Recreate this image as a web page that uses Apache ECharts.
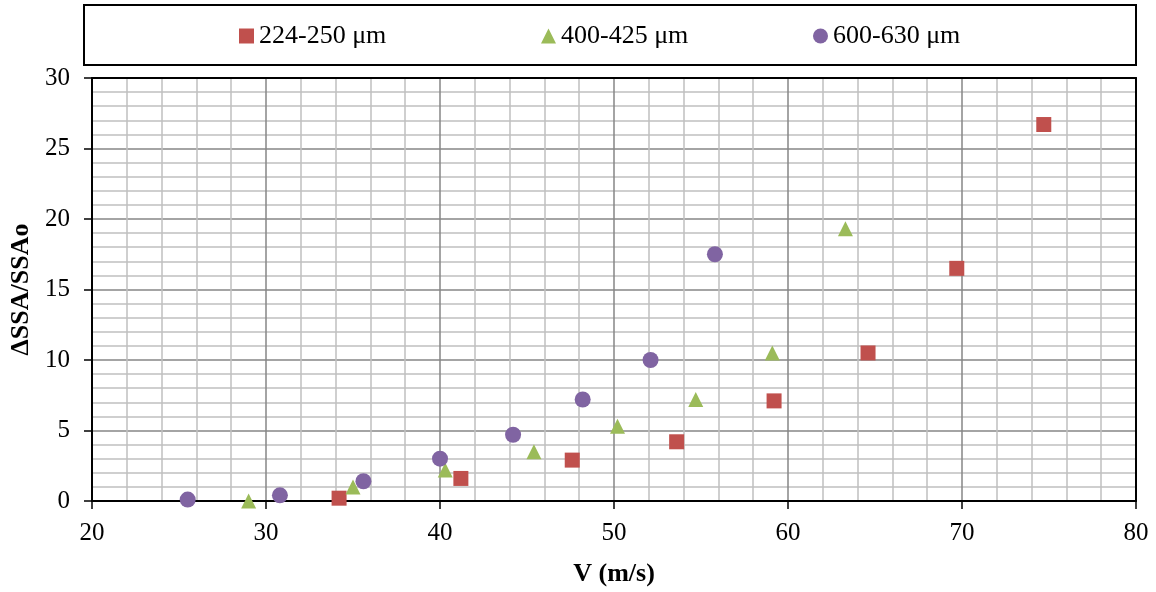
<!DOCTYPE html>
<html>
<head>
<meta charset="utf-8">
<script src="https://cdn.jsdelivr.net/npm/echarts@6/dist/echarts.min.js"></script>
<style>
html,body{margin:0;padding:0;background:#fff;}
#chart{width:1156px;height:592px;}
</style>
</head>
<body>
<div id="chart"></div>
<script>
const seriesNames = ['224-250 μm', '400-425 μm', '600-630 μm'];
const fine = [[34.2, 0.2], [41.2, 1.6], [47.6, 2.9], [53.6, 4.2], [59.2, 7.1], [64.6, 10.5], [69.7, 16.5], [74.7, 26.7]];
const medium = [[29.0, 0.0], [35.0, 1.0], [40.3, 2.2], [45.4, 3.5], [50.2, 5.3], [54.7, 7.2], [59.1, 10.5], [63.3, 19.3]];
const coarse = [[25.5, 0.1], [30.8, 0.4], [35.6, 1.4], [40.0, 3.0], [44.2, 4.7], [48.2, 7.2], [52.1, 10.0], [55.8, 17.5]];
const xTitle = 'V (m/s)';
const yTitle = 'ΔSSA/SSAo';

const font = '"Liberation Serif", "Times New Roman", serif';
const legendText = {fontFamily: font, fontSize: 26, color: '#000'};
const chart = echarts.init(document.getElementById('chart'));
function leg(i, left, icon) {
  return {top: 18, left: left, itemWidth: 15, itemHeight: 15, itemGap: 0,
    textStyle: legendText, data: [{name: seriesNames[i], icon: icon}]};
}
const hiddenAxis = {
  axisLabel: {show: false}, axisTick: {show: false}, splitLine: {show: false},
  axisLine: {show: true, onZero: false, lineStyle: {color: '#000', width: 2}}
};
chart.setOption({
  animation: false,
  backgroundColor: '#fff',
  graphic: [{
    type: 'rect', shape: {x: 84, y: 5, width: 1052, height: 60},
    style: {fill: 'none', stroke: '#000', lineWidth: 2}, z: 0
  }],
  legend: [leg(0, 234, 'rect'), leg(1, 536, 'triangle'), leg(2, 808, 'circle')],
  grid: {left: 92, right: 20, top: 78, bottom: 89},
  xAxis: [{
    type: 'value', min: 20, max: 80, interval: 10,
    name: xTitle, nameLocation: 'middle', nameGap: 60,
    nameTextStyle: {fontFamily: font, fontSize: 26, fontWeight: 'bold', color: '#000'},
    axisLine: {show: true, onZero: false, lineStyle: {color: '#000', width: 2}},
    axisTick: {show: true, length: 8, lineStyle: {color: '#000', width: 1.5}},
    axisLabel: {fontFamily: font, fontSize: 25, color: '#000', margin: 20},
    splitLine: {show: true, lineStyle: {color: '#868686', width: 1.5}},
    minorTick: {show: false, splitNumber: 5},
    minorSplitLine: {show: true, lineStyle: {color: '#c0c0c0', width: 1.5}}
  }, Object.assign({type: 'value', min: 20, max: 80, position: 'top', z: 10}, hiddenAxis)],
  yAxis: [{
    type: 'value', min: 0, max: 30, interval: 5,
    name: yTitle, nameLocation: 'middle', nameGap: 52, nameRotate: 90,
    nameTextStyle: {fontFamily: font, fontSize: 26, fontWeight: 'bold', color: '#000'},
    axisLine: {show: true, onZero: false, lineStyle: {color: '#000', width: 2}},
    axisTick: {show: true, length: 8, lineStyle: {color: '#000', width: 1.5}},
    axisLabel: {fontFamily: font, fontSize: 25, color: '#000', margin: 22},
    splitLine: {show: true, lineStyle: {color: '#868686', width: 1.5}},
    minorTick: {show: false, splitNumber: 5},
    minorSplitLine: {show: true, lineStyle: {color: '#c0c0c0', width: 1.5}}
  }, Object.assign({type: 'value', min: 0, max: 30, position: 'right', z: 10}, hiddenAxis)],
  series: [
    {name: seriesNames[0], type: 'scatter', symbol: 'rect', symbolSize: 15, data: fine, itemStyle: {color: '#c0504d', opacity: 1}, z: 5},
    {name: seriesNames[1], type: 'scatter', symbol: 'triangle', symbolSize: 15, data: medium, itemStyle: {color: '#9bbb59', opacity: 1}, z: 5},
    {name: seriesNames[2], type: 'scatter', symbol: 'circle', symbolSize: 16, data: coarse, itemStyle: {color: '#8064a2', opacity: 1}, z: 5}
  ]
});
</script>
</body>
</html>
